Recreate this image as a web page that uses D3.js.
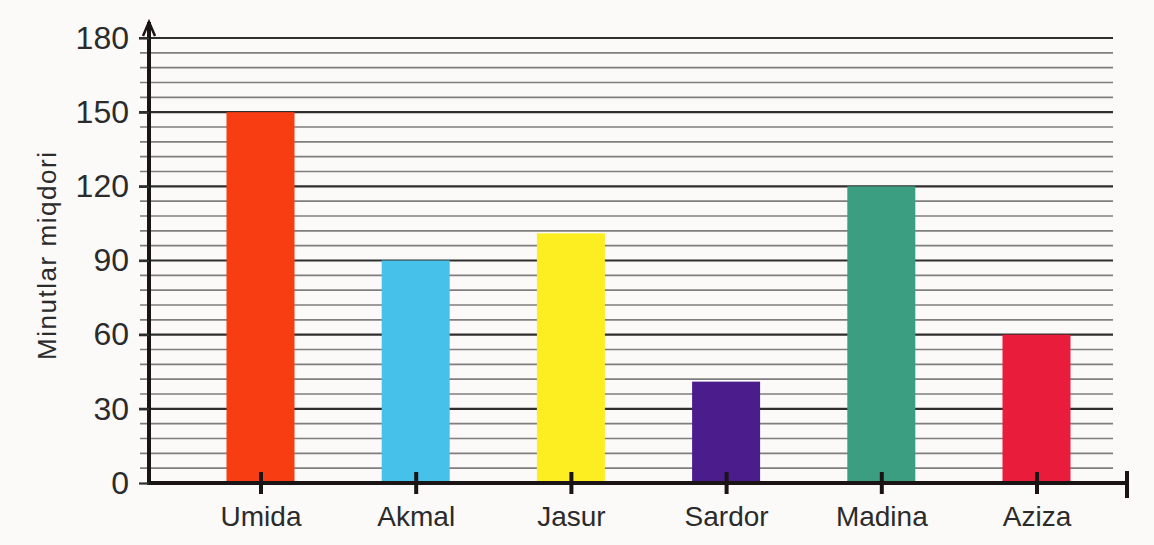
<!DOCTYPE html>
<html>
<head>
<meta charset="utf-8">
<script src="https://cdn.jsdelivr.net/npm/d3@7"></script>
<style>
  html, body { margin: 0; padding: 0; background: #fbfaf9; }
  svg { display: block; }
  text { font-family: "Liberation Sans", Arial, sans-serif; fill: #2b2b2b; }
</style>
</head>
<body>
<svg id="chart" width="1154" height="545"></svg>
<script>
const categories = ["Umida", "Akmal", "Jasur", "Sardor", "Madina", "Aziza"];
const values = [150, 90, 101, 41, 120, 60];
const barColors = ["#f93d12", "#46c1ea", "#fcee20", "#4b1c8c", "#3c9e81", "#ea1c3c"];
const yTicks = [0, 30, 60, 90, 120, 150, 180];
const yLabel = "Minutlar miqdori";

const svg = d3.select("#chart");
const W = 1154, H = 545;
svg.append("rect").attr("width", W).attr("height", H).attr("fill", "#fbfaf9");

const axisX = 149;
const y = d3.scaleLinear().domain([0, 180]).range([483, 38]);
const x = d3.scalePoint().domain(categories).range([260.5, 1036.5]);
const barW = 68;
const gridRight = 1113;

// gridlines: minor every 6, major every 30
const minor = d3.range(6, 181, 6).filter(v => v % 30 !== 0);
const g = svg.append("g");
g.selectAll("line.minor").data(minor).join("line")
  .attr("x1", 140).attr("x2", gridRight)
  .attr("y1", d => y(d)).attr("y2", d => y(d))
  .attr("stroke", "#7e7e7e").attr("stroke-width", 1.6);
g.selectAll("line.major").data(yTicks.filter(v => v > 0)).join("line")
  .attr("x1", 139).attr("x2", gridRight)
  .attr("y1", d => y(d)).attr("y2", d => y(d))
  .attr("stroke", "#2e2e2e").attr("stroke-width", 2.2);

// bars
svg.append("g").selectAll("rect").data(categories).join("rect")
  .attr("x", d => x(d) - barW / 2)
  .attr("y", (d, i) => y(values[i]))
  .attr("width", barW)
  .attr("height", (d, i) => y(0) - y(values[i]))
  .attr("fill", (d, i) => barColors[i]);

// y axis line with arrow
svg.append("line")
  .attr("x1", axisX).attr("x2", axisX)
  .attr("y1", y(0) + 2).attr("y2", 22)
  .attr("stroke", "#1a1414").attr("stroke-width", 4);
svg.append("path")
  .attr("d", `M${axisX - 6},${36} L${axisX},${22} L${axisX + 6},${36}`)
  .attr("fill", "none").attr("stroke", "#1a1414").attr("stroke-width", 2.5);

// x axis line
svg.append("line")
  .attr("x1", axisX - 2).attr("x2", 1128)
  .attr("y1", y(0)).attr("y2", y(0))
  .attr("stroke", "#1a1414").attr("stroke-width", 4);
svg.append("line")
  .attr("x1", 1127).attr("x2", 1127)
  .attr("y1", 471).attr("y2", 498)
  .attr("stroke", "#1a1414").attr("stroke-width", 4);

// x axis via d3
const xAxis = d3.axisBottom(x).tickSize(11).tickSizeOuter(0).tickPadding(12);
const xg = svg.append("g").attr("transform", `translate(0,${y(0)})`).call(xAxis);
xg.select(".domain").remove();
xg.selectAll(".tick line").attr("stroke", "#1a1414").attr("stroke-width", 4).attr("y1", -11);
xg.selectAll(".tick text").attr("font-size", 28).attr("fill", "#2b2b2b")
  .attr("font-family", '"Liberation Sans", Arial, sans-serif');

// y axis via d3
const yAxis = d3.axisLeft(y).tickValues(yTicks).tickSize(10).tickPadding(10);
const yg = svg.append("g").attr("transform", `translate(${axisX},0)`).call(yAxis);
yg.select(".domain").remove();
yg.selectAll(".tick line").attr("stroke", "#2e2e2e").attr("stroke-width", 2.2);
yg.selectAll(".tick text").attr("font-size", 32).attr("fill", "#2b2b2b")
  .attr("font-family", '"Liberation Sans", Arial, sans-serif');

// y label
svg.append("text")
  .attr("transform", "translate(56,256) rotate(-90)")
  .attr("text-anchor", "middle")
  .attr("font-size", 26)
  .attr("textLength", 208)
  .attr("lengthAdjust", "spacing")
  .text(yLabel);
</script>
</body>
</html>
